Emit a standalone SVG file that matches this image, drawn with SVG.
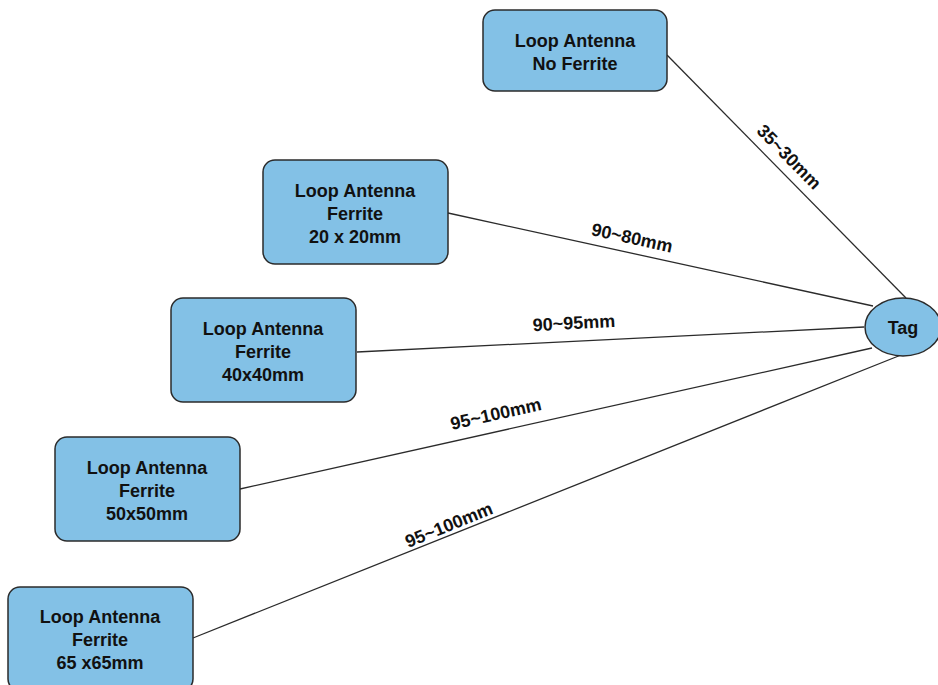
<svg xmlns="http://www.w3.org/2000/svg" width="938" height="685" viewBox="0 0 938 685">
  <style>
    .box { fill: #83C1E6; stroke: #2b2b2b; stroke-width: 1.5; }
    .lbl { font-family: "Liberation Sans", Arial, sans-serif; font-weight: bold; font-size: 18px; fill: #111; text-anchor: middle; }
    .edge { stroke: #2b2b2b; stroke-width: 1.3; fill: none; }
  </style>
  <rect x="0" y="0" width="938" height="685" fill="#ffffff"/>

  <!-- connectors -->
  <g id="connectors">
    <line class="edge" x1="667" y1="55" x2="906" y2="298"/>
    <line class="edge" x1="448" y1="213" x2="873" y2="306"/>
    <line class="edge" x1="357" y1="352" x2="864" y2="327"/>
    <line class="edge" x1="240" y1="489" x2="872" y2="348"/>
    <line class="edge" x1="193" y1="638" x2="901" y2="355"/>
    <text class="lbl" x="789" y="163" transform="rotate(45.3 789 157)">35~30mm</text>
    <text class="lbl" x="632" y="244" transform="rotate(12.4 632 238)">90~80mm</text>
    <text class="lbl" x="574" y="329" transform="rotate(-3 574 323)">90~95mm</text>
    <text class="lbl" x="496" y="420" transform="rotate(-12.5 496 414)">95~100mm</text>
    <text class="lbl" x="449" y="531" transform="rotate(-22 449 525)">95~100mm</text>
  </g>

  <g id="loop-no-ferrite">
    <rect class="box" x="483" y="10" width="184" height="81" rx="12"/>
    <text class="lbl" x="575" y="47">Loop Antenna</text>
    <text class="lbl" x="575" y="70">No Ferrite</text>
  </g>

  <g id="loop-ferrite-20">
    <rect class="box" x="263" y="160" width="185" height="104" rx="12"/>
    <text class="lbl" x="355" y="197">Loop Antenna</text>
    <text class="lbl" x="355" y="220">Ferrite</text>
    <text class="lbl" x="355" y="243">20 x 20mm</text>
  </g>

  <g id="loop-ferrite-40">
    <rect class="box" x="171" y="298" width="185" height="104" rx="12"/>
    <text class="lbl" x="263" y="335">Loop Antenna</text>
    <text class="lbl" x="263" y="358">Ferrite</text>
    <text class="lbl" x="263" y="381">40x40mm</text>
  </g>

  <g id="loop-ferrite-50">
    <rect class="box" x="55" y="437" width="185" height="104" rx="12"/>
    <text class="lbl" x="147" y="474">Loop Antenna</text>
    <text class="lbl" x="147" y="497">Ferrite</text>
    <text class="lbl" x="147" y="520">50x50mm</text>
  </g>

  <g id="loop-ferrite-65">
    <rect class="box" x="8" y="587" width="185" height="104" rx="12"/>
    <text class="lbl" x="100" y="623">Loop Antenna</text>
    <text class="lbl" x="100" y="646">Ferrite</text>
    <text class="lbl" x="100" y="669">65 x65mm</text>
  </g>

  <g id="tag">
    <ellipse class="box" cx="903" cy="327" rx="38" ry="29"/>
    <text class="lbl" x="903" y="334">Tag</text>
  </g>
</svg>
